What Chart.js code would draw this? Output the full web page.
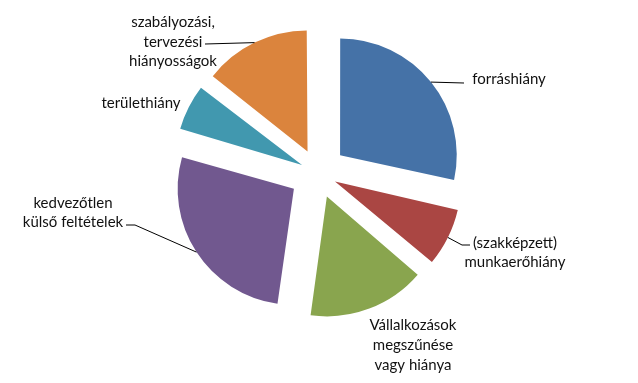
<!DOCTYPE html>
<html>
<head>
<meta charset="utf-8">
<script src="https://cdn.jsdelivr.net/npm/chart.js@4/dist/chart.umd.min.js"></script>
<style>
    html, body { margin: 0; padding: 0; background: #fff; }
</style>
</head>
<body>
<canvas id="pieChart" width="638" height="383"></canvas>
<script>
// --- Data ---
const categories = [
    ['forráshiány'],
    ['(szakképzett)', 'munkaerőhiány'],
    ['Vállalkozások', 'megszűnése', 'vagy hiánya'],
    ['kedvezőtlen', 'külső feltételek'],
    ['területhiány'],
    ['szabályozási,', 'tervezési', 'hiányosságok']
];
const values = [28.4, 7.8, 16.0, 27.1, 6.2, 14.4];
const colors = ['#4572A7', '#AA4643', '#89A54E', '#71588F', '#4198AF', '#DB843D'];

// --- Label placement (text centre x, line centres y, leader line bends) ---
const labelX = [509, 515, 413, 73, 141, 173];
const labelY = [[79], [243, 262], [325, 345, 365], [203, 222], [103], [22, 42, 61]];
const leaders = [
    [[464, 83]],
    [[462, 245], [470, 245]],
    null,
    [[135, 225], [126, 225]],
    null,
    [[205, 44]]
];

const explode = 29;
const total = values.reduce((a, b) => a + b, 0);

// chart.js moves a slice by offset/4 * (2 - sin(c)); invert it so every slice moves the same distance
function sliceOffset(i) {
    const c = values[i] / total * Math.PI * 2;
    return 4 * explode / (2 - Math.sin(Math.min(Math.PI, c)));
}

const labelPlugin = {
    id: 'pieLabels',
    afterDatasetsDraw(chart) {
        const ctx = chart.ctx;
        const arcs = chart.getDatasetMeta(0).data;
        ctx.save();
        ctx.strokeStyle = '#000';
        ctx.lineWidth = 1;
        arcs.forEach((arc, i) => {
            const { x, y, startAngle, endAngle, outerRadius } = arc.getProps(['x', 'y', 'startAngle', 'endAngle', 'outerRadius'], true);
            const mid = (startAngle + endAngle) / 2;
            const r = outerRadius + explode;
            if (leaders[i]) {
                ctx.beginPath();
                ctx.moveTo(x + Math.cos(mid) * r, y + Math.sin(mid) * r);
                leaders[i].forEach(p => ctx.lineTo(p[0], p[1]));
                ctx.stroke();
            }
        });
        ctx.fillStyle = '#111';
        ctx.font = '15px Lato';
        ctx.textAlign = 'center';
        ctx.textBaseline = 'middle';
        categories.forEach((lines, i) => {
            lines.forEach((line, j) => ctx.fillText(line, labelX[i], labelY[i][j]));
        });
        ctx.restore();
    }
};

new Chart(document.getElementById('pieChart'), {
    type: 'pie',
    data: {
        labels: categories,
        datasets: [{
            data: values,
            backgroundColor: colors,
            borderWidth: 0,
            radius: 116,
            offset: (c) => sliceOffset(c.dataIndex),
            hoverOffset: 0
        }]
    },
    options: {
        responsive: false,
        animation: false,
        events: [],
        layout: { padding: { left: 0, right: 2, top: 0, bottom: 37 } },
        plugins: { legend: { display: false }, tooltip: { enabled: false } }
    },
    plugins: [labelPlugin]
});
</script>
</body>
</html>
